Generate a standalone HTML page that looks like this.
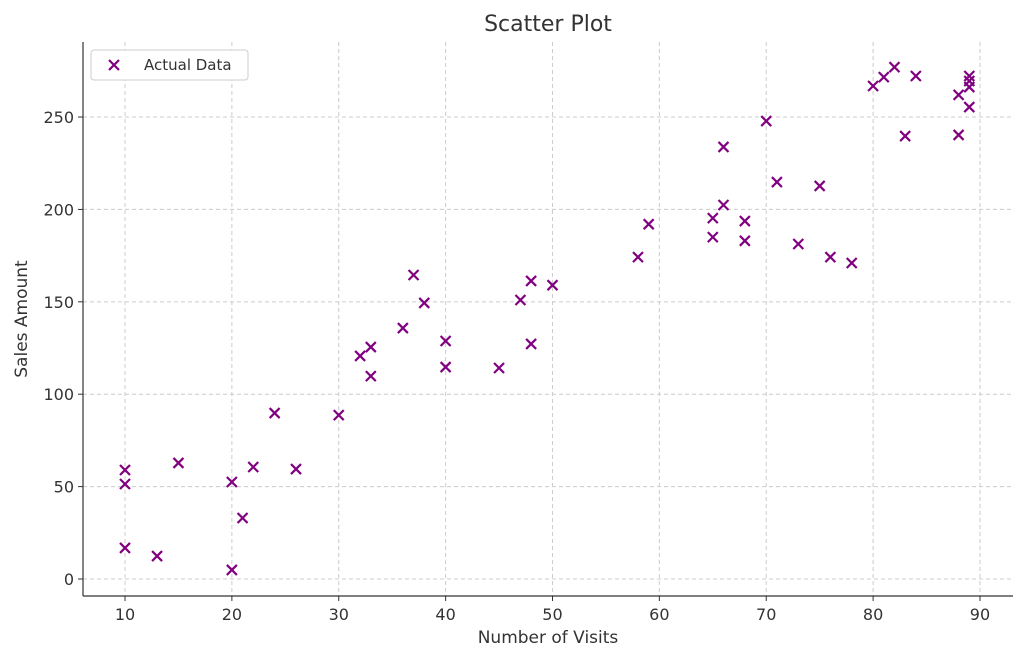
<!DOCTYPE html>
<html><head><meta charset="utf-8"><style>
html,body{margin:0;padding:0;background:#fff;}
svg{display:block;font-family:"DejaVu Sans","Liberation Sans",sans-serif;}
</style></head><body>
<svg id="chart" width="1024" height="660" viewBox="0 0 1024 660">
<rect width="1024" height="660" fill="#fff"/>
<text x="548" y="31" font-size="22" text-anchor="middle" fill="#333">Scatter Plot</text>
<g id="grid"></g><g id="axes"></g><g id="marks"></g>
<text x="548" y="643" font-size="17" text-anchor="middle" fill="#333">Number of Visits</text>
<text transform="translate(27,319) rotate(-90)" font-size="17" text-anchor="middle" fill="#333">Sales Amount</text>
<g>
<rect x="91" y="50" width="157" height="30" rx="3" fill="#fff" stroke="#ccc"/>
<g stroke="#800080" stroke-width="2.2"><line x1="109" y1="60" x2="119" y2="70"/><line x1="119" y1="60" x2="109" y2="70"/></g>
<text x="144" y="70" font-size="15" fill="#333">Actual Data</text>
</g>
</svg>
<script>
const visits=[10,10,10,13,15,20,20,21,22,24,26,30,32,33,33,36,37,38,40,40,45,47,48,48,50,58,59,65,65,66,66,68,68,70,71,73,75,76,78,80,81,82,83,84,88,88,89,89,89,89];
const sales=[59,51.4,16.8,12.4,62.8,52.5,4.9,33,60.6,89.8,59.5,88.7,120.7,125.5,109.8,135.8,164.5,149.4,128.8,114.7,114.2,151,161.3,127.2,159,174.2,192,195.3,185,233.8,202.4,193.7,183,247.8,214.8,181.3,212.7,174.2,171,266.8,271.6,277,239.7,272.2,262,240.3,272.2,269.5,266.2,255.4];
const xTicks=[10,20,30,40,50,60,70,80,90];
const yTicks=[0,50,100,150,200,250];
const L=83,R=1013,T=42,B=596,xMin=6.07,xMax=93.09,yMin=-9.2,yMax=290.6;
const sx=v=>L+(v-xMin)/(xMax-xMin)*(R-L);
const sy=v=>B-(v-yMin)/(yMax-yMin)*(B-T);
const NS="http://www.w3.org/2000/svg";
function mk(tag,attrs,parent){const e=document.createElementNS(NS,tag);for(const k in attrs)e.setAttribute(k,attrs[k]);parent.appendChild(e);return e;}
const grid=document.getElementById('grid'),axes=document.getElementById('axes'),marks=document.getElementById('marks');
xTicks.forEach(t=>{const x=sx(t);
 const g=mk('line',{x1:x,x2:x,y1:T,y2:B,stroke:'#ccc','stroke-dasharray':'4,3'},grid);
 
 
 mk('line',{x1:x,x2:x,y1:B,y2:B+5,stroke:'#333'},axes);
 const tx=mk('text',{x:x,y:B+24,'font-size':16,'text-anchor':'middle',fill:'#333'},axes);tx.textContent=t;
 
 });
yTicks.forEach(t=>{const y=sy(t);
 const g=mk('line',{x1:L,x2:R,y1:y,y2:y,stroke:'#ccc','stroke-dasharray':'4,3'},grid);
 
 
 mk('line',{x1:L-5,x2:L,y1:y,y2:y,stroke:'#333'},axes);
 const tx=mk('text',{x:L-9,y:y+6,'font-size':16,'text-anchor':'end',fill:'#333'},axes);tx.textContent=t;
 
 });
mk('line',{x1:L,x2:L,y1:T,y2:B,stroke:'#333','stroke-width':1.2},axes);
mk('line',{x1:L,x2:R,y1:B,y2:B,stroke:'#333','stroke-width':1.2},axes);
visits.forEach((v,i)=>{const x=sx(v),y=sy(sales[i]);
 const g=mk('g',{stroke:'#800080','stroke-width':2.2},marks);
 
 
 mk('line',{x1:x-5,y1:y-5,x2:x+5,y2:y+5},g);
 mk('line',{x1:x+5,y1:y-5,x2:x-5,y2:y+5},g);});
</script>
</body></html>
